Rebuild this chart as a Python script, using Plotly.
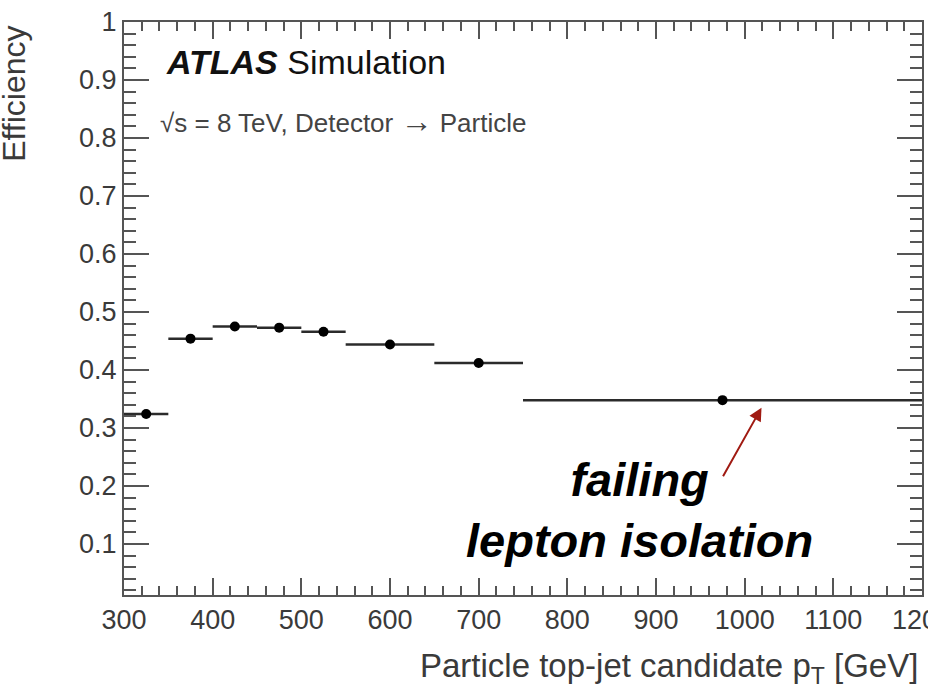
import plotly.graph_objects as go

# Bin edges of the particle-level top-jet candidate pT (GeV) and the efficiency per bin
bin_edges = [300, 350, 400, 450, 500, 550, 650, 750, 1200]
efficiency = [0.324, 0.454, 0.475, 0.473, 0.466, 0.444, 0.412, 0.348]

x_tick_vals = [300, 400, 500, 600, 700, 800, 900, 1000, 1100, 1200]
y_tick_vals = [0.1, 0.2, 0.3, 0.4, 0.5, 0.6, 0.7, 0.8, 0.9, 1.0]
y_tick_text = ["0.1", "0.2", "0.3", "0.4", "0.5", "0.6", "0.7", "0.8", "0.9", "1"]

centers = [(lo + hi) / 2 for lo, hi in zip(bin_edges[:-1], bin_edges[1:])]
half_widths = [(hi - lo) / 2 for lo, hi in zip(bin_edges[:-1], bin_edges[1:])]

FONT = "Liberation Sans, Arial, Helvetica, sans-serif"
AXIS_COL = "#555555"
TEXT_COL = "#3a3a3a"

fig = go.Figure()
fig.add_trace(go.Scatter(
    x=centers,
    y=efficiency,
    mode="markers",
    marker=dict(color="black", size=10),
    error_x=dict(type="data", array=half_widths, color="#2b2b2b",
                 thickness=2.5, width=0),
    showlegend=False,
    cliponaxis=False,
))

fig.update_layout(
    width=928,
    height=693,
    margin=dict(l=124, r=6, t=22, b=98, autoexpand=False),
    paper_bgcolor="white",
    plot_bgcolor="white",
    font=dict(family=FONT, color=TEXT_COL),
    xaxis=dict(
        range=[300, 1200],
        tickvals=x_tick_vals,
        ticks="inside", ticklen=17, tickwidth=1.5, tickcolor=AXIS_COL,
        minor=dict(dtick=20, tick0=300, ticks="inside", ticklen=9,
                   tickwidth=1.5, tickcolor=AXIS_COL),
        showline=True, linecolor=AXIS_COL, linewidth=2, mirror="allticks",
        showgrid=False, zeroline=False,
        automargin=False,
        ticklabeloverflow="allow",
        tickfont=dict(size=27, color=TEXT_COL),
    ),
    yaxis=dict(
        range=[0.012, 1.0],
        tickvals=y_tick_vals, ticktext=y_tick_text,
        ticks="inside", ticklen=25, tickwidth=1.5, tickcolor=AXIS_COL,
        minor=dict(dtick=0.02, tick0=0, ticks="inside", ticklen=12,
                   tickwidth=1.5, tickcolor=AXIS_COL),
        showline=True, linecolor=AXIS_COL, linewidth=2, mirror="allticks",
        showgrid=False, zeroline=False,
        automargin=False,
        tickfont=dict(size=27, color=TEXT_COL),
    ),
)

annotations = [
    # axis titles, ROOT style (right / top aligned)
    dict(text="Particle top-jet candidate p<sub>T</sub> [GeV]",
         xref="paper", yref="paper", x=0.9975, y=-0.127,
         xanchor="right", yanchor="middle", showarrow=False,
         font=dict(size=33, color=TEXT_COL)),
    dict(text="Efficiency", textangle=-90,
         xref="paper", yref="paper", x=-0.137, y=0.874,
         xanchor="center", yanchor="middle", showarrow=False,
         font=dict(size=32, color=TEXT_COL)),
    # experiment label
    dict(text="<b><i>ATLAS</i></b> Simulation",
         xref="paper", yref="paper", x=0.0505, y=0.930,
         xanchor="left", yanchor="middle", showarrow=False,
         font=dict(size=34, color="#111111")),
    dict(text="√s = 8 TeV, Detector <span style='font-size:32px'>→</span> Particle",
         xref="paper", yref="paper", x=0.043, y=0.827,
         xanchor="left", yanchor="middle", showarrow=False,
         font=dict(size=26, color="#444444")),
    # callout text
    dict(text="<b><i>failing<br>lepton isolation</i></b>",
         xref="x", yref="y", x=881, y=0.158,
         xanchor="center", yanchor="middle", showarrow=False, align="center",
         font=dict(size=47, color="black")),
    # callout arrow pointing at the last bin
    dict(text="", xref="x", yref="y", x=1019, y=0.335,
         axref="x", ayref="y", ax=974.7, ay=0.214,
         showarrow=True, arrowhead=2, arrowsize=1.3, arrowwidth=2,
         arrowcolor="#a01a12", standoff=0, startstandoff=0),
]
fig.update_layout(annotations=annotations)

fig.write_html("out.html")
